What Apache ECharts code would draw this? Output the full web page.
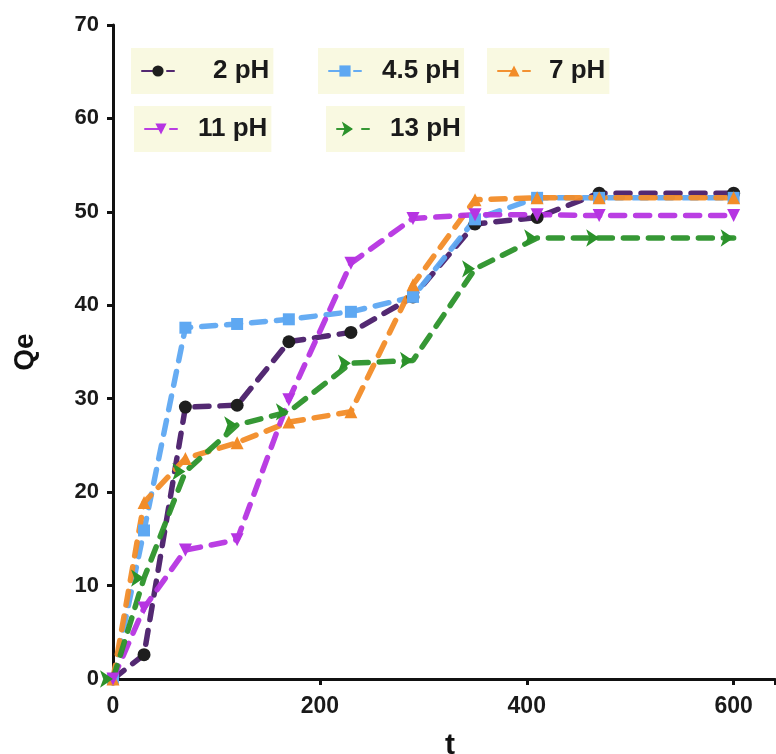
<!DOCTYPE html>
<html>
<head>
<meta charset="utf-8">
<script src="https://cdn.jsdelivr.net/npm/echarts@6/dist/echarts.min.js"></script>
<style>
  html, body { margin: 0; padding: 0; background: #fff; }
  #chart { width: 776px; height: 754px; }
</style>
</head>
<body>
<div id="chart"></div>
<script>
// Contact time (t) and adsorption capacity (Qe) at each pH
const times = [0, 30, 70, 120, 170, 230, 290, 350, 410, 470, 600];
const qe_pH2   = [0, 2.6, 29.1, 29.3, 36.1, 37.1, 40.9, 48.7, 49.4, 52.0, 52.0];
const qe_pH4_5 = [0, 15.9, 37.6, 38.0, 38.5, 39.3, 40.9, 49.2, 51.5, 51.5, 51.5];
const qe_pH7   = [0, 18.9, 23.6, 25.3, 27.5, 28.6, 42.2, 51.3, 51.5, 51.5, 51.5];
const qe_pH11  = [0, 7.6, 13.8, 14.9, 29.9, 44.5, 49.3, 49.7, 49.7, 49.6, 49.6];
const qe_pH13  = [0, 10.8, 22.2, 27.2, 28.6, 33.8, 34.1, 43.9, 47.2, 47.2, 47.2];

const xTicks = [0, 200, 400, 600];
const yTicks = [0, 10, 20, 30, 40, 50, 60, 70];

const FONT = 'Liberation Sans, Arial, sans-serif';

const seriesDefs = [
  { name: '2 pH',   data: qe_pH2,   line: '#4a1e6a', mark: '#1e1e1e', symbol: 'circle',   size: 13, rot: 0 },
  { name: '4.5 pH', data: qe_pH4_5, line: '#5ea8f2', mark: '#5ea8f2', symbol: 'rect',     size: 12, rot: 0 },
  { name: '7 pH',   data: qe_pH7,   line: '#f28c28', mark: '#f28c28', symbol: 'triangle', size: 13, rot: 0 },
  { name: '11 pH',  data: qe_pH11,  line: '#b634e2', mark: '#b634e2', symbol: 'triangle', size: 13, rot: 180 },
  { name: '13 pH',  data: qe_pH13,  line: '#2b922a', mark: '#2b922a', symbol: 'arrow',    size: 13, rot: -90 }
];

const series = seriesDefs.map(s => ({
  name: s.name,
  type: 'line',
  data: times.map((t, i) => [t, s.data[i]]),
  symbol: s.symbol,
  symbolSize: s.size,
  symbolRotate: s.rot,
  showAllSymbol: true,
  itemStyle: { color: s.mark, opacity: 1 },
  lineStyle: { color: s.line, width: 5.5, type: [14, 11], cap: 'round', opacity: 0.95 },
  emphasis: { disabled: true },
  animation: false,
  z: 3
}));

// One legend per item so each label gets its own pale box
const legendPos = [
  { left: 131, top: 48, gap: 34 },
  { left: 318, top: 48, gap: 16 },
  { left: 487, top: 48, gap: 14 },
  { left: 134, top: 106, gap: 16 },
  { left: 326, top: 106, gap: 16 }
];
const legends = seriesDefs.map((s, i) => ({
  data: [s.name],
  left: legendPos[i].left,
  top: legendPos[i].top,
  backgroundColor: 'rgba(248,248,222,0.9)',
  padding: [10, 4, 10, 10],
  itemWidth: 32,
  itemHeight: 14,
  itemGap: 0,
  selectedMode: false,
  textStyle: { fontFamily: FONT, fontWeight: 'bold', fontSize: 26, color: '#1a1a1a', padding: [0, 0, 0, legendPos[i].gap] }
}));

const chart = echarts.init(document.getElementById('chart'), null, { renderer: 'canvas' });
chart.setOption({
  backgroundColor: '#ffffff',
  animation: false,
  legend: legends,
  grid: { left: 113, right: 1, top: 25, bottom: 75, containLabel: false, outerBoundsMode: 'none' },
  xAxis: {
    type: 'value', min: 0, max: 640, interval: 200,
    name: 't', nameLocation: 'middle', nameGap: 52,
    nameTextStyle: { fontFamily: FONT, fontWeight: 'bold', fontSize: 30, color: '#111', padding: [0, 0, 0, 12] },
    axisLine: { show: true, lineStyle: { color: '#111', width: 3 } },
    axisTick: { show: true, length: 6, lineStyle: { color: '#111', width: 3 } },
    axisLabel: {
      fontFamily: FONT, fontWeight: 'bold', fontSize: 23, color: '#1a1a1a', margin: 16,
      formatter: v => (xTicks.indexOf(v) >= 0 ? String(v) : '')
    },
    splitLine: { show: false }
  },
  yAxis: {
    type: 'value', min: 0, max: 70, interval: 10,
    name: 'Qe', nameLocation: 'middle', nameGap: 74, nameRotate: 90,
    nameTextStyle: { fontFamily: FONT, fontWeight: 'bold', fontSize: 28, color: '#111' },
    axisLine: { show: true, lineStyle: { color: '#111', width: 3 } },
    axisTick: { show: true, length: 6, lineStyle: { color: '#111', width: 3 } },
    axisLabel: {
      fontFamily: FONT, fontWeight: 'bold', fontSize: 22, color: '#1a1a1a', margin: 14,
      formatter: v => (yTicks.indexOf(v) >= 0 ? String(v) : '')
    },
    splitLine: { show: false }
  },
  series: series
});
</script>
</body>
</html>
